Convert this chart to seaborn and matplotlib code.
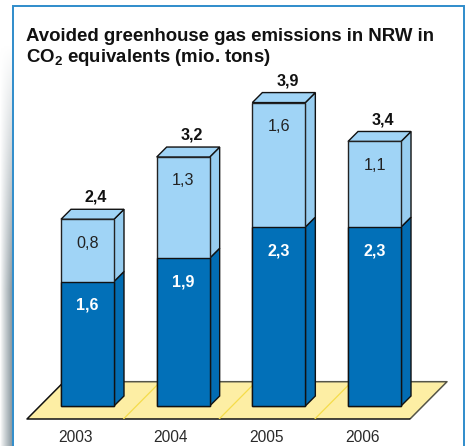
#!/usr/bin/env python3

import matplotlib
matplotlib.use('Agg')
import matplotlib.pyplot as plt
import numpy as np
import pandas as pd
import seaborn as sns
from matplotlib.colors import LinearSegmentedColormap
from matplotlib.patches import Polygon, Rectangle

years = ['2003', '2004', '2005', '2006']
lower = [1.6, 1.9, 2.3, 2.3]
upper = [0.8, 1.3, 1.6, 1.1]
totals = [2.4, 3.2, 3.9, 3.4]

W, H = 470, 446
LIGHT = '#a0d4f6'
LIGHT_SIDE = '#97cdf0'
DARK = '#0270b8'
DARK_SIDE = '#026cb2'
FLOOR = '#fdeea4'

sns.set_theme(style='white')
plt.rcParams['font.family'] = ['Liberation Sans', 'DejaVu Sans']
plt.rcParams['mathtext.fontset'] = 'custom'
plt.rcParams['mathtext.bf'] = 'Liberation Sans:bold'


def comma(v):
    return f'{v:.1f}'.replace('.', ',')


def side_faces(ax, i, bottom, top, color, depth_x, depth_y, half):
    # right side of the fake 3d box
    r = i + half
    ax.add_patch(Polygon([(r, bottom), (r + depth_x, bottom + depth_y),
                          (r + depth_x, top + depth_y), (r, top)],
                         fc=color, ec='#111111', lw=1, zorder=3))


def main():
    fig = plt.figure(figsize=(W / 100, H / 100), dpi=100)
    fig.patch.set_facecolor('white')

    # soft shadow left of the panel, gets heavier towards the bottom
    bg = fig.add_axes([0, 0, 12 / W, 1], zorder=0)
    yy, xx = np.mgrid[0:1:200j, 0:1:24j]
    strength = np.clip((yy - 0.1) / 0.55, 0, 1) * xx ** 0.9
    shade = LinearSegmentedColormap.from_list('shade', ['white', '#8f9ca3'])
    bg.imshow(strength, cmap=shade, vmin=0, vmax=1, aspect='auto')
    bg.axis('off')

    fig.add_artist(Rectangle((12.5 / W, -0.01), 451.5 / W, (H - 6.5) / H + 0.01,
                             transform=fig.transFigure, fc='white',
                             ec='#2f8ccb', lw=1.4, zorder=1))

    # axes spans the panel down to the floor front edge
    left, right, top, bottom = 13, 463, 8, 419
    ax = fig.add_axes([left / W, (H - bottom) / H, (right - left) / W, (bottom - top) / H], zorder=2)
    ax.patch.set_alpha(0)
    df = pd.DataFrame({'year': years, 'total': totals, 'lower': lower})
    width = 0.554
    sns.barplot(data=df, x='year', y='total', color=LIGHT, saturation=1, width=width,
                edgecolor='#222222', linewidth=1, ax=ax, zorder=4)
    sns.barplot(data=df, x='year', y='lower', color=DARK, saturation=1, width=width,
                edgecolor='#111111', linewidth=1, ax=ax, zorder=5)

    px_x, px_y = 95.67, 77.8
    ax.set_xlim((left - 87.5) / px_x, (right - 87.5) / px_x)
    ax.set_ylim((406 - bottom) / px_y, (406 - top) / px_y)
    dx, dy = 10 / px_x, 10 / px_y
    half = width / 2

    # floor
    y0, y1 = (406 - 419) / px_y, (406 - 381.7) / px_y
    x0, x1 = (27 - 87.5) / px_x, (410 - 87.5) / px_x
    shift = 37 / px_x
    ax.add_patch(Polygon([(x0, y0), (x1, y0), (x1 + shift, y1), (x0 + shift, y1)],
                         fc=FLOOR, ec='none', zorder=1, clip_on=False))
    ax.plot([x0 + shift, x1 + shift, x1], [y1, y1, y0], color='#555548', lw=1.1, zorder=1.5)
    ax.plot([x0 + shift, x0, x1], [y1, y0, y0], color='#111111', lw=1.1, zorder=1.5, clip_on=False)
    for i in range(3):
        ax.plot([i + 0.376, i + 0.376 + shift], [y0, y1], color='#f5dc4a', lw=0.9, zorder=1.5)

    for i in range(len(years)):
        side_faces(ax, i, 0, lower[i], DARK_SIDE, dx, dy, half)
        side_faces(ax, i, lower[i], totals[i], LIGHT_SIDE, dx, dy, half)
        l, r = i - half, i + half
        ax.add_patch(Polygon([(l, totals[i]), (r, totals[i]), (r + dx, totals[i] + dy), (l + dx, totals[i] + dy)],
                             fc=LIGHT, ec='#111111', lw=1, zorder=3))
        ax.annotate(comma(totals[i]), (i, totals[i]), xytext=(6.2, 15.8), textcoords='offset points',
                    ha='center', va='center', fontsize=11.6, fontweight='bold', color='#111111', zorder=6)
        ax.annotate(comma(lower[i]), (i, lower[i]), xytext=(0, -17.2), textcoords='offset points',
                    ha='center', va='center', fontsize=11.6, fontweight='bold', color='white', zorder=6)
        ax.annotate(comma(upper[i]), (i, totals[i]), xytext=(0, -17.2), textcoords='offset points',
                    ha='center', va='center', fontsize=11.6, color='#222222', zorder=6)

    ax.set_xticks(np.arange(len(years)) - 0.13, labels=years)
    ax.tick_params(axis='x', length=0, pad=7.6, labelsize=11.2, labelcolor='#2a2a2a')
    ax.set_yticks([])
    ax.set_xlabel('')
    ax.set_ylabel('')
    sns.despine(ax=ax, left=True, bottom=True)

    fig.text(26 / W, 1 - 40.6 / H, 'Avoided greenhouse gas emissions in NRW in', fontsize=13.45,
             fontweight='bold', color='#111111', va='baseline', zorder=6)
    fig.text(26 / W, 1 - 62 / H, r'CO$_{\mathbf{2}}$ equivalents (mio. tons)', fontsize=13.45,
             fontweight='bold', color='#111111', va='baseline', zorder=6)

    fig.savefig('out.png', dpi=100)
    plt.close(fig)


if __name__ == '__main__':
    main()
